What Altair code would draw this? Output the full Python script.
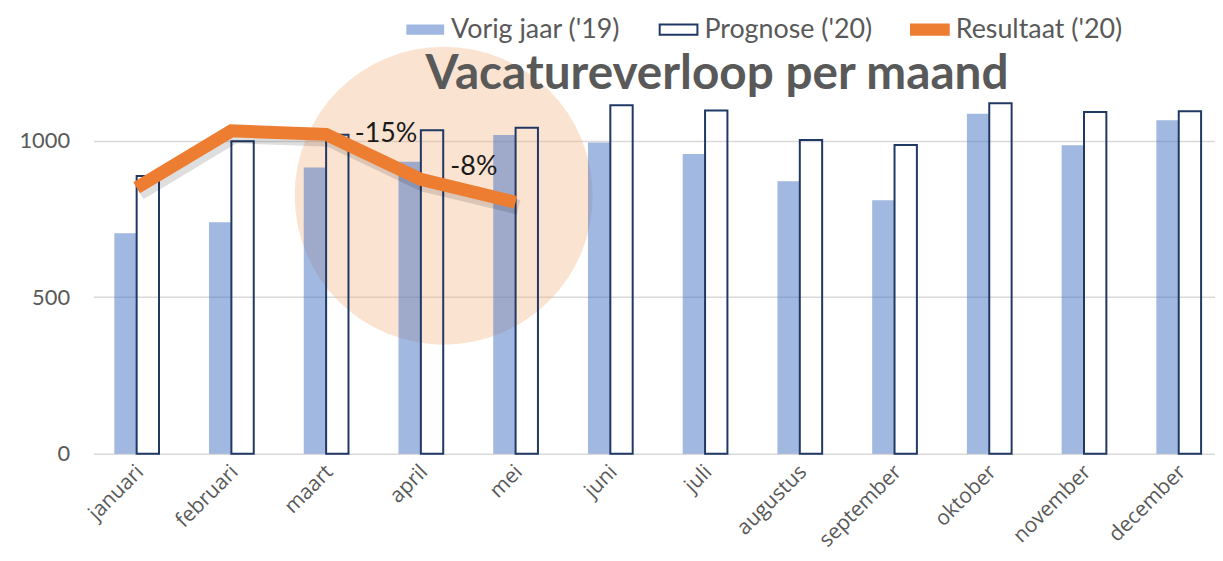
import altair as alt
import pandas as pd

months = ["januari", "februari", "maart", "april", "mei", "juni", "juli",
          "augustus", "september", "oktober", "november", "december"]
series_names = ["Vorig jaar ('19)", "Prognose ('20)", "Resultaat ('20)"]
vorig = [705, 740, 915, 933, 1019, 995, 958, 871, 810, 1087, 986, 1066]
prognose = [888, 999, 1020, 1034, 1042, 1114, 1097, 1003, 987, 1120, 1092, 1095]
resultaat = [850, 1032, 1021, 877, 804]

title_text = "Vacatureverloop per maand"
title_month = "juli"
title_value = 1165
annot_labels = ["-15%", "-8%"]
annot_months = ["april", "mei"]
annot_values = [997, 892]
highlight_month = "april"
highlight_value = 825

bars = pd.DataFrame({
    "month": months * 2,
    "series": [series_names[0]] * 12 + [series_names[1]] * 12,
    "value": vorig + prognose,
})
res_df = pd.DataFrame({"month": months[:len(resultaat)], "value": resultaat})
title_df = pd.DataFrame({"month": [title_month], "value": [title_value], "t": [title_text]})
ann1 = pd.DataFrame({"month": [annot_months[0]], "value": [annot_values[0]], "t": [annot_labels[0]]})
ann2 = pd.DataFrame({"month": [annot_months[1]], "value": [annot_values[1]], "t": [annot_labels[1]]})
circ_df = pd.DataFrame({"month": [highlight_month], "value": [highlight_value]})

FONT = "Lato"
GREY = "#595959"
YMAX = 1419

x_enc = alt.X("month:N", sort=months,
              scale=alt.Scale(paddingInner=0.528, paddingOuter=0.1835, align=0.6),
              axis=alt.Axis(title=None, labelAngle=-45, labelFontSize=21, labelColor=GREY,
                            labelFont="Open Sans", ticks=False, domain=False, labelPadding=7,
                            labelOffset=-4, grid=False))
y_enc = alt.Y("value:Q", scale=alt.Scale(domain=[0, YMAX], nice=False, zero=True),
              axis=alt.Axis(title=None, values=[0, 500, 1000], format="d", labelFontSize=22,
                            labelColor=GREY, labelFont=FONT, ticks=False, domain=False,
                            labelPadding=24, grid=True, gridColor="#D9D9D9", gridWidth=1.5))

legend = alt.Legend(
    title=None, orient="none", legendX=314, legendY=0, direction="horizontal",
    symbolType="M-1,-0.27H1V0.27H-1Z", symbolSize=1444, symbolStrokeWidth=2,
    labelFont=FONT, labelFontSize=27, labelColor=GREY, labelLimit=400,
    columnPadding=35, labelOffset=6,
    symbolOpacity=alt.ExprRef(expr="datum.index === 0 ? 0.5 : 1"),
)

circle = alt.Chart(circ_df).mark_point(
    shape="circle", filled=True, size=90000, color="#F4B183", opacity=0.36, xOffset=23
).encode(x=x_enc, y=y_enc)

bar = alt.Chart(bars).mark_bar(strokeWidth=2).encode(
    x=x_enc,
    xOffset=alt.XOffset("series:N", sort=series_names[:2],
                        scale=alt.Scale(domain=series_names[:2], paddingInner=0, paddingOuter=0)),
    y=y_enc,
    fill=alt.Fill("series:N", scale=alt.Scale(domain=series_names,
                                              range=["#4472C4", "transparent", "#ED7D31"]),
                  legend=legend),
    stroke=alt.Stroke("series:N", scale=alt.Scale(domain=series_names,
                                                  range=["transparent", "#1F3864", "#ED7D31"]),
                      legend=legend),
    fillOpacity=alt.FillOpacity("series:N", scale=alt.Scale(type="ordinal", domain=series_names,
                                                            range=[0.5, 1, 1]),
                                legend=legend),
)

shadow = alt.Chart(res_df).mark_line(
    color="#000000", opacity=0.13, strokeWidth=15, xOffset=3, yOffset=5, strokeJoin="miter"
).encode(x=x_enc, y=y_enc)

line = alt.Chart(res_df).mark_line(
    color="#ED7D31", strokeWidth=13, strokeJoin="miter", strokeCap="butt"
).encode(x=x_enc, y=y_enc)

t1 = alt.Chart(ann1).mark_text(font=FONT, fontSize=27, color="#1a1a1a", dx=-35,
                               align="center", baseline="alphabetic").encode(x=x_enc, y=y_enc, text="t:N")
t2 = alt.Chart(ann2).mark_text(font=FONT, fontSize=27, color="#1a1a1a", dx=-42,
                               align="center", baseline="alphabetic").encode(x=x_enc, y=y_enc, text="t:N")
ttl = alt.Chart(title_df).mark_text(font=FONT, fontSize=48, fontWeight="bold", color=GREY, dx=12,
                                    align="center", baseline="alphabetic").encode(x=x_enc, y=y_enc, text="t:N")

chart = alt.layer(circle, bar, shadow, line, t1, t2, ttl).properties(
    width=1129, height=447,
    autosize=alt.AutoSizeParams(type="none"),
    padding={"left": 86, "top": 0, "right": 0, "bottom": 92},
).configure_view(stroke=None)

chart.save("out.html", embed_options={"renderer": "svg", "actions": False})
